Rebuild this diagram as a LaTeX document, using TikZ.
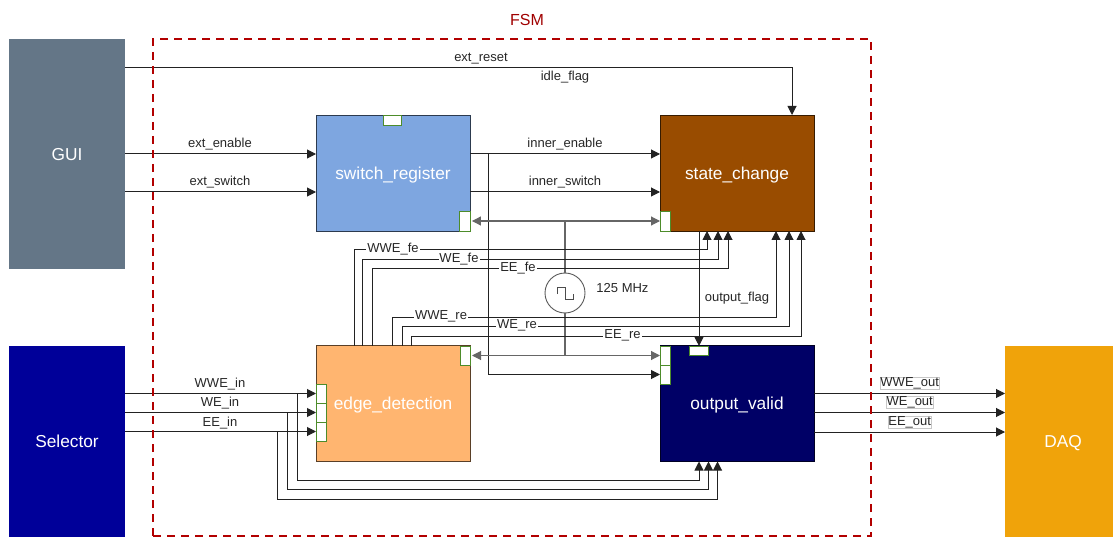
\documentclass[tikz,border=0pt]{standalone}
\usepackage{fontspec}
\setmainfont{Liberation Sans}
\usetikzlibrary{arrows.meta,calc}
\definecolor{cgui}{HTML}{647687}
\definecolor{csel}{HTML}{000099}
\definecolor{cdaq}{HTML}{F0A30A}
\definecolor{csw}{HTML}{7EA6E0}
\definecolor{cst}{HTML}{994C00}
\definecolor{ced}{HTML}{FFB570}
\definecolor{cov}{HTML}{000066}
\definecolor{cfsm}{HTML}{B20000}
\definecolor{cport}{HTML}{4D8C2A}
\definecolor{cwire}{HTML}{222222}
\definecolor{cclk}{HTML}{666666}
\tikzset{
  x=1pt,y=-1pt,
  block/.style={draw=#1!35!black,fill=#1,line width=0.9pt,outer sep=0pt,inner sep=0pt,text=white,text depth=0pt,
    minimum width=154pt,minimum height=116pt,font=\fontsize{17.3}{20}\selectfont},
  ext/.style={block=#1,minimum width=116pt,draw=none},
  portbox/.style={draw=cport,fill=white,line width=0.9pt,inner sep=0pt,outer sep=0pt,minimum width=#1},
  wire/.style={draw=cwire,line width=1pt},
  tip/.tip={Triangle[length=9pt,width=9pt]},
  awire/.style={wire,-tip},
  clkwire/.style={draw=cclk,line width=1.1pt},
  lbl/.style={inner sep=0.5pt,text depth=0pt,font=\fontsize{13}{15}\selectfont,text=black!85},
  wlbl/.style={lbl,fill=white,inner xsep=1pt,text depth=2pt},
  blbl/.style={lbl,fill=white,draw=black!22,line width=0.5pt,inner sep=0.6pt,text depth=2pt},
}
\begin{document}
\begin{tikzpicture}
\useasboundingbox (0,0) rectangle (1113,537);
\clip (0,0) rectangle (1113,537);
% blocks
\node[ext=cgui,minimum height=230pt] (gui) at (67,154) {GUI};
\node[ext=csel,minimum height=191pt] (sel) at (67,441.5) {Selector};
\node[ext=cdaq,minimum height=191pt] (daq) at (1063,441.5) {DAQ};
\node[block=csw] (sw) at (393,173) {switch\_register};
\node[block=cst] (st) at (737,173) {state\_change};
\node[block=ced] (ed) at (393,403.5) {edge\_detection};
\node[block=cov] (ov) at (737,403.5) {output\_valid};
% ports
\node[portbox=18pt,minimum height=10pt] (swtop) at (392,120) {};
\node[portbox=10.5pt,minimum height=20pt] (swclk) at (464.7,221) {};
\node[portbox=10pt,minimum height=20pt] (stclk) at (665,221) {};
\node[portbox=10pt,minimum height=19pt] (edclk) at (465,355.5) {};
\node[portbox=10pt,minimum height=19pt] (edA) at (321,393.5) {};
\node[portbox=10pt,minimum height=19pt] (edB) at (321,412.5) {};
\node[portbox=10pt,minimum height=19pt] (edC) at (321,431.5) {};
\node[portbox=10pt,minimum height=19pt] (ovclk) at (665,355.5) {};
\node[portbox=10pt,minimum height=19pt] (ovrst) at (665,374.5) {};
\node[portbox=19pt,minimum height=9.5pt] (ovtop) at (699,350.7) {};
% clock
\node[circle,draw=black!65,fill=white,line width=0.9pt,minimum size=40pt,inner sep=0pt,outer sep=0pt] (clk) at (565,293) {};
\draw[draw=black!70,line width=0.8pt] (557.5,294) -- (557.5,287.5) -- (565,287.5) -- (565,299) -- (573,299) -- (573,293.5);
% routing levels
\coordinate (yReset) at (0,68);
\coordinate (yEn) at (0,154);
\coordinate (ySw) at (0,192);
\coordinate (yFeA) at (0,250);
\coordinate (yFeB) at (0,259.5);
\coordinate (yFeC) at (0,269);
\coordinate (yReA) at (0,317);
\coordinate (yReB) at (0,326.5);
\coordinate (yReC) at (0,336);
\coordinate (yOvA) at (0,480);
\coordinate (yOvB) at (0,489.5);
\coordinate (yOvC) at (0,499);
\coordinate (xReset) at (792,0);
\coordinate (xTap) at (488,0);
\coordinate (xFeA) at (354,0);
\coordinate (xFeB) at (362.5,0);
\coordinate (xFeC) at (372.5,0);
\coordinate (xReA) at (392.5,0);
\coordinate (xReB) at (402,0);
\coordinate (xReC) at (411.5,0);
\coordinate (xStA) at (707,0);
\coordinate (xStB) at (718,0);
\coordinate (xStC) at (728,0);
\coordinate (xStD) at (776,0);
\coordinate (xStE) at (789,0);
\coordinate (xStF) at (801,0);
\coordinate (xInA) at (297,0);
\coordinate (xInB) at (287,0);
\coordinate (xInC) at (277.5,0);
\coordinate (xOvA) at (699,0);
\coordinate (xOvB) at (708.5,0);
\coordinate (xOvC) at (717.5,0);
\coordinate (yOutA) at (0,393.5);
\coordinate (yOutB) at (0,412.5);
\coordinate (yOutC) at (0,432);
% top connectors
\draw[awire] (gui.east |- yReset) -- (xReset |- yReset) -- (xReset |- st.north);
\draw[awire] (gui.east |- yEn) -- (sw.west |- yEn);
\draw[awire] (gui.east |- ySw) -- (sw.west |- ySw);
\draw[awire] (sw.east |- yEn) -- (st.west |- yEn);
\draw[awire] (sw.east |- ySw) -- (st.west |- ySw);
\draw[awire] (xTap |- yEn) -- (xTap |- ovrst.west) -- (ovrst.west);
% clock connectors
\draw[clkwire,tip-tip,shorten <=2pt] (swclk.east) -- (stclk.west);
\draw[clkwire] (clk.north) -- (clk.north |- swclk.east);
\draw[clkwire,tip-tip,shorten <=2pt] (edclk.east) -- (ovclk.west);
\draw[clkwire] (clk.south) -- (clk.south |- edclk.east);
% falling / rising edge
\draw[awire] (xFeA |- ed.north) -- (xFeA |- yFeA) -- (xStA |- yFeA) -- (xStA |- st.south);
\draw[awire] (xFeB |- ed.north) -- (xFeB |- yFeB) -- (xStB |- yFeB) -- (xStB |- st.south);
\draw[awire] (xFeC |- ed.north) -- (xFeC |- yFeC) -- (xStC |- yFeC) -- (xStC |- st.south);
\draw[awire] (xReA |- ed.north) -- (xReA |- yReA) -- (xStD |- yReA) -- (xStD |- st.south);
\draw[awire] (xReB |- ed.north) -- (xReB |- yReB) -- (xStE |- yReB) -- (xStE |- st.south);
\draw[awire] (xReC |- ed.north) -- (xReC |- yReC) -- (xStF |- yReC) -- (xStF |- st.south);
% output flag
\draw[awire] (xOvA |- st.south) -- (xOvA |- ovtop.north);
% inputs
\draw[awire] (sel.east |- edA.west) -- (edA.west);
\draw[awire] (sel.east |- edB.west) -- (edB.west);
\draw[awire] (sel.east |- edC.west) -- (edC.west);
\draw[awire] (xInA |- edA.west) -- (xInA |- yOvA) -- (xOvA |- yOvA) -- (xOvA |- ov.south);
\draw[awire] (xInB |- edB.west) -- (xInB |- yOvB) -- (xOvB |- yOvB) -- (xOvB |- ov.south);
\draw[awire] (xInC |- edC.west) -- (xInC |- yOvC) -- (xOvC |- yOvC) -- (xOvC |- ov.south);
% outputs
\draw[awire] (ov.east |- yOutA) -- (daq.west |- yOutA);
\draw[awire] (ov.east |- yOutB) -- (daq.west |- yOutB);
\draw[awire] (ov.east |- yOutC) -- (daq.west |- yOutC);
% FSM frame
\node[draw=cfsm,line width=2.6pt,dash pattern=on 8pt off 6pt,minimum width=718pt,minimum height=497pt,inner sep=0pt,outer sep=0pt] (fsm) at (512,287.5) {};
\node[lbl,text=cfsm!90!black,font=\fontsize{16}{18}\selectfont] (fsmlabel) at (527,20) {FSM};
% labels
\node[lbl] (l1) at (481,57) {ext\_reset};
\node[lbl] (l2) at (565,76) {idle\_flag};
\node[lbl] (l3) at (220,143) {ext\_enable};
\node[lbl] (l4) at (220,181) {ext\_switch};
\node[lbl] (l5) at (565,143) {inner\_enable};
\node[lbl] (l6) at (565,181) {inner\_switch};
\node[wlbl] (l7) at (393,249) {WWE\_fe};
\node[wlbl] (l8) at (459,258.5) {WE\_fe};
\node[wlbl] (l9) at (518,268) {EE\_fe};
\node[wlbl] (l10) at (441,316) {WWE\_re};
\node[wlbl] (l11) at (517,325.5) {WE\_re};
\node[wlbl] (l12) at (622.5,335) {EE\_re};
\node[lbl] (l13) at (622.5,288) {125 MHz};
\node[lbl] (l14) at (737,297) {output\_flag};
\node[lbl] (l15) at (220,383) {WWE\_in};
\node[lbl] (l16) at (220,402) {WE\_in};
\node[lbl] (l17) at (220,422) {EE\_in};
\node[blbl] (l18) at (909.7,383) {WWE\_out};
\node[blbl] (l19) at (909.7,402) {WE\_out};
\node[blbl] (l20) at (909.7,422) {EE\_out};
\end{tikzpicture}
\end{document}
